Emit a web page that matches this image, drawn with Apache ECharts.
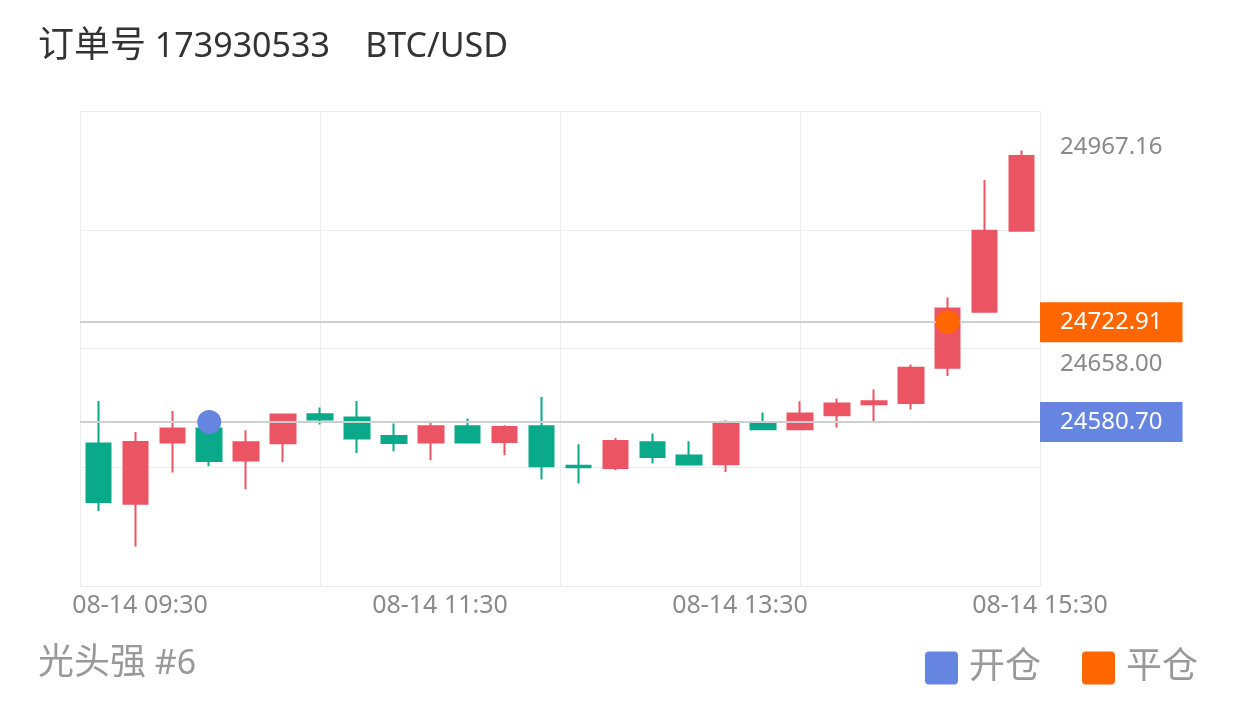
<!DOCTYPE html>
<html>
<head>
<meta charset="utf-8">
<script src="https://cdn.jsdelivr.net/npm/echarts@6/dist/echarts.min.js"></script>
<style>
  html, body { margin: 0; padding: 0; background: #fff; }
  #main { width: 1240px; height: 702px; }
</style>
</head>
<body>
<div id="main"></div>
<script>
// ---- data ----
const titleCjk = '订单号';
const titleRest = ' 173930533    BTC/USD';
const footerCjk = '光头强';
const footerRest = ' #6';
const categories = ['09:15','09:30','09:45','10:00','10:15','10:30','10:45','11:00','11:15','11:30','11:45','12:00','12:15',
  '12:30','12:45','13:00','13:15','13:30','13:45','14:00','14:15','14:30','14:45','15:00','15:15','15:30'];
// [open, close, low, high]
const ohlc = [
  [24550.1, 24466.8, 24454.0, 24610.8],
  [24464.6, 24552.4, 24403.7, 24566.6],
  [24551.5, 24571.5, 24508.8, 24596.6],
  [24571.5, 24525.3, 24517.7, 24585.0],
  [24525.9, 24551.9, 24485.0, 24569.1],
  [24550.5, 24591.4, 24523.9, 24591.4],
  [24591.9, 24584.3, 24577.2, 24601.4],
  [24587.2, 24557.2, 24536.7, 24610.8],
  [24560.9, 24550.9, 24539.1, 24578.6],
  [24551.5, 24574.8, 24526.3, 24580.9],
  [24574.8, 24551.5, 24550.1, 24585.7],
  [24552.4, 24573.8, 24533.4, 24576.2],
  [24574.8, 24517.7, 24498.8, 24616.5],
  [24518.4, 24516.3, 24493.1, 24549.1],
  [24515.3, 24553.8, 24512.0, 24558.1],
  [24551.9, 24531.0, 24521.6, 24564.3],
  [24533.0, 24520.2, 24519.2, 24553.4],
  [24520.6, 24579.5, 24509.6, 24583.3],
  [24579.5, 24570.5, 24569.1, 24594.3],
  [24570.5, 24592.9, 24569.5, 24610.4],
  [24590.4, 24607.1, 24572.9, 24614.2],
  [24606.1, 24610.4, 24581.9, 24627.1],
  [24608.0, 24658.0, 24598.6, 24662.7],
  [24658.0, 24742.5, 24646.4, 24758.2],
  [24737.7, 24853.1, 24736.8, 24925.4],
  [24853.1, 24959.6, 24851.7, 24967.16]
];
const openName = '开仓';
const closeName = '平仓';
const openPoint = ['10:00', 24580.70];
const closePoint = ['15:00', 24722.91];
const yLabelValues = [24967.16, 24658.00];
const xTickLabels = ['08-14 09:30', '08-14 11:30', '08-14 13:30', '08-14 15:30'];
const xTickSlots = [1, 6, 11, 16]; // slots on a 16-slot time ruler

// ---- styles ----
const UP = '#eb5463';
const DOWN = '#0aa98a';
const BLUE = '#6685e0';
const ORANGE = '#ff6600';
const FONT = "'Noto Sans', 'Noto Sans CJK SC', sans-serif";
// rounded square legend icon
const ROUND_SQ = 'path://M4,0 L29,0 Q33,0 33,4 L33,29 Q33,33 29,33 L4,33 Q0,33 0,29 L0,4 Q0,0 4,0 Z';

let dMin = Infinity, dMax = -Infinity;
ohlc.forEach(d => { dMin = Math.min(dMin, d[2]); dMax = Math.max(dMax, d[3]); });
const pad = (dMax - dMin) * 0.1;
const yMin = dMin - pad, yMax = dMax + pad;

const chart = echarts.init(document.getElementById('main'), null, { renderer: 'canvas' });
chart.setOption({
  animation: false,
  textStyle: { fontFamily: FONT },
  title: [
    { text: '{c|' + titleCjk + '}' + titleRest, left: 38, top: 29, padding: 0,
      textStyle: { fontSize: 34, lineHeight: 36, fontWeight: 'normal', color: '#333', fontFamily: FONT,
        rich: { c: { fontSize: 36, lineHeight: 36, color: '#333', fontFamily: FONT } } } },
    { text: '{c|' + footerCjk + '}' + footerRest, left: 38, top: 646, padding: 0,
      textStyle: { fontSize: 34, lineHeight: 36, fontWeight: 'normal', color: '#999', fontFamily: FONT,
        rich: { c: { fontSize: 36, lineHeight: 36, color: '#999', fontFamily: FONT } } } }
  ],
  legend: {
    right: 37, top: 645, itemWidth: 33, itemHeight: 33, itemGap: 41,
    data: [{ name: openName, icon: ROUND_SQ }, { name: closeName, icon: ROUND_SQ }],
    textStyle: { fontSize: 36, color: '#999', fontFamily: FONT, padding: [0, 0, 0, 6] }
  },
  grid: { left: 80, right: 200, top: 111, bottom: 116 },
  xAxis: [
    { type: 'category', data: categories, boundaryGap: true,
      axisLine: { show: false }, axisTick: { show: false }, axisLabel: { show: false }, splitLine: { show: false } },
    { type: 'value', min: 0, max: 16, interval: 4, position: 'bottom',
      axisLine: { show: false }, axisTick: { show: false },
      splitLine: { show: true, lineStyle: { color: '#ececec', width: 1 } },
      axisLabel: { customValues: xTickSlots, fontSize: 25, color: '#8a8a8a', margin: 7, fontFamily: FONT,
        formatter: v => xTickLabels[xTickSlots.indexOf(v)] || '' } }
  ],
  yAxis: [
    { type: 'value', min: yMin, max: yMax, position: 'right', scale: true,
      axisLine: { show: false }, axisTick: { show: false }, splitLine: { show: false },
      axisLabel: { customValues: yLabelValues, color: '#8a8a8a', margin: 20, fontFamily: FONT,
        formatter: v => '{v|' + Number(v).toFixed(2) + '}',
        rich: { v: { fontSize: 24, color: '#8a8a8a', fontFamily: FONT, padding: [0, 0, 7, 0] } } } },
    { type: 'value', min: 0, max: 4, interval: 1, position: 'left',
      axisLine: { show: false }, axisTick: { show: false }, axisLabel: { show: false },
      splitLine: { show: true, lineStyle: { color: '#ececec', width: 1 } } }
  ],
  series: [
    { type: 'candlestick', xAxisIndex: 0, yAxisIndex: 0, data: ohlc, barWidth: 25,
      itemStyle: { color: UP, color0: DOWN, borderColor: UP, borderColor0: DOWN, borderWidth: 2 },
      markLine: {
        symbol: 'none', silent: true, animation: false,
        lineStyle: { color: '#cfcfcf', width: 2, type: 'solid' },
        label: { position: 'end', distance: 0, color: '#fff', fontSize: 24, lineHeight: 24,
          padding: [8, 20], fontFamily: FONT, formatter: p => Number(p.value).toFixed(2) },
        data: [
          { yAxis: closePoint[1], label: { backgroundColor: ORANGE } },
          { yAxis: openPoint[1], label: { backgroundColor: BLUE } }
        ]
      }
    },
    { name: openName, type: 'scatter', xAxisIndex: 0, yAxisIndex: 0, z: 10, symbolSize: 24,
      legendIcon: ROUND_SQ, itemStyle: { color: BLUE, opacity: 1 }, data: [openPoint] },
    { name: closeName, type: 'scatter', xAxisIndex: 0, yAxisIndex: 0, z: 10, symbolSize: 24,
      legendIcon: ROUND_SQ, itemStyle: { color: ORANGE, opacity: 1 }, data: [closePoint] }
  ]
});
</script>
</body>
</html>
